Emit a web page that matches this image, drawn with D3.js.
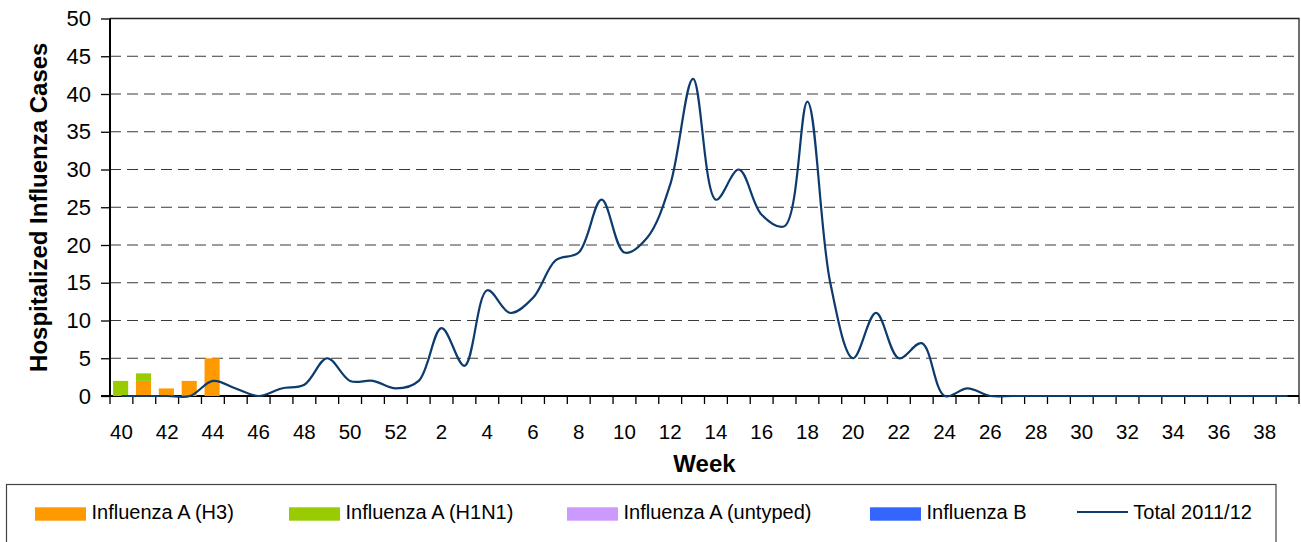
<!DOCTYPE html>
<html>
<head>
<meta charset="utf-8">
<script src="https://cdn.jsdelivr.net/npm/d3@7"></script>
<style>
  body { margin: 0; background: #fff; }
  svg { display: block; font-family: "Liberation Sans", Arial, sans-serif; }
</style>
</head>
<body>
<svg id="chart" width="1301" height="542"></svg>
<script>
// ---- data ----
const weeks = [40,41,42,43,44,45,46,47,48,49,50,51,52,
  1,2,3,4,5,6,7,8,9,10,11,12,13,14,15,16,17,18,19,20,21,22,23,24,25,26,
  27,28,29,30,31,32,33,34,35,36,37,38,39];
const fluAH3 = [0,2,1,2,5,0,0,0,0,0,0,0,0,
  0,0,0,0,0,0,0,0,0,0,0,0,0,0,0,0,0,0,0,0,0,0,0,0,0,0,
  0,0,0,0,0,0,0,0,0,0,0,0,0];
const fluAH1N1 = [2,1,0,0,0,0,0,0,0,0,0,0,0,
  0,0,0,0,0,0,0,0,0,0,0,0,0,0,0,0,0,0,0,0,0,0,0,0,0,0,
  0,0,0,0,0,0,0,0,0,0,0,0,0];
const fluAUntyped = [0,0,0,0,0,0,0,0,0,0,0,0,0,
  0,0,0,0,0,0,0,0,0,0,0,0,0,0,0,0,0,0,0,0,0,0,0,0,0,0,
  0,0,0,0,0,0,0,0,0,0,0,0,0];
const fluB = [0,0,0,0,0,0,0,0,0,0,0,0,0,
  0,0,0,0,0,0,0,0,0,0,0,0,0,0,0,0,0,0,0,0,0,0,0,0,0,0,
  0,0,0,0,0,0,0,0,0,0,0,0,0];
const total = [0,0,0,0,2,1,0,1,1.5,5,2,2,1,
  2,9,4,14,11,13,18,19,26,19,21,28,42,26,30,24,22.5,39,15,5,11,5,7,0,1,0,
  0,0,0,0,0,0,0,0,0,0,0,0,0];
const yTicks = [0,5,10,15,20,25,30,35,40,45,50];
const seriesNames = ["Influenza A (H3)","Influenza A (H1N1)","Influenza A (untyped)","Influenza B"];
const seriesColors = ["#FF9900","#99CC00","#CC99FF","#3366FF"];
const lineName = "Total 2011/12";
const lineColor = "#0d3b6e";

// ---- layout ----
const L = 110, R = 1299, T = 18.5, B = 396;
const svg = d3.select("#chart");

const x = d3.scaleBand().domain(weeks).range([L, R]).padding(0);
const y = d3.scaleLinear().domain([0, 50]).range([B, T]);
const bw = x.bandwidth();
const barW = bw * 0.66;

// gridlines
svg.append("g").selectAll("line")
  .data(yTicks.filter(v => v > 0 && v < 50))
  .join("line")
  .attr("x1", L).attr("x2", R)
  .attr("y1", d => y(d)).attr("y2", d => y(d))
  .attr("stroke", "#3a3a3a").attr("stroke-width", 1)
  .attr("stroke-dasharray", "11,6");

// plot border top/right
svg.append("path")
  .attr("d", `M${L},${T}H${R}V${B}`)
  .attr("fill", "none").attr("stroke", "#222").attr("stroke-width", 1.3);

// y axis
const yAxis = svg.append("g")
  .attr("transform", `translate(${L},0)`)
  .call(d3.axisLeft(y).tickValues(yTicks).tickSize(9).tickPadding(10));
yAxis.select(".domain").remove();
yAxis.selectAll(".tick line").attr("stroke", "#000").attr("stroke-width", 1.3);
yAxis.selectAll(".tick text").attr("font-size", 22).attr("fill", "#000")
  .attr("font-family", "Liberation Sans, Arial, sans-serif");

// x axis labels (every other week)
const xAxis = svg.append("g")
  .attr("transform", `translate(0,${B})`)
  .call(d3.axisBottom(x).tickSize(0).tickPadding(28)
    .tickFormat((d, i) => i % 2 === 0 ? d : ""));
xAxis.select(".domain").remove();
xAxis.selectAll(".tick text").attr("font-size", 20.5).attr("fill", "#000")
  .attr("font-family", "Liberation Sans, Arial, sans-serif");

// x tick marks at band boundaries
const bounds = weeks.map(w => x(w)).concat([R]);
svg.append("g").selectAll("line").data(bounds).join("line")
  .attr("x1", d => d).attr("x2", d => d)
  .attr("y1", B).attr("y2", B + 8)
  .attr("stroke", "#000").attr("stroke-width", 1.3);

// axis lines
svg.append("line").attr("x1", L).attr("x2", L).attr("y1", T).attr("y2", B + 1)
  .attr("stroke", "#000").attr("stroke-width", 2);
svg.append("line").attr("x1", L - 9).attr("x2", R).attr("y1", B).attr("y2", B)
  .attr("stroke", "#000").attr("stroke-width", 2);

// stacked bars
const rows = weeks.map((w, i) => ({
  week: w, s0: fluAH3[i], s1: fluAH1N1[i], s2: fluAUntyped[i], s3: fluB[i]
}));
const stack = d3.stack().keys(["s0","s1","s2","s3"])(rows);
svg.append("g").selectAll("g").data(stack).join("g")
  .attr("fill", (d, i) => seriesColors[i])
  .selectAll("rect").data(d => d.filter(p => p[1] - p[0] > 0)).join("rect")
  .attr("x", d => x(d.data.week) + (bw - barW) / 2 - 0.8)
  .attr("width", barW)
  .attr("y", d => y(d[1]))
  .attr("height", d => y(d[0]) - y(d[1]));

// total line
const line = d3.line()
  .x((d, i) => x(weeks[i]) + bw / 2)
  .y(d => y(d))
  .curve(d3.curveCatmullRom.alpha(0.5));
svg.append("path").datum(total)
  .attr("d", line)
  .attr("fill", "none").attr("stroke", lineColor).attr("stroke-width", 2.2)
  .attr("stroke-linejoin", "round");

// axis titles
svg.append("text")
  .attr("transform", `translate(46.5,${(T + B) / 2}) rotate(-90)`)
  .attr("text-anchor", "middle")
  .attr("font-size", 24).attr("font-weight", "bold")
  .text("Hospitalized Influenza Cases");
svg.append("text")
  .attr("x", (L + R) / 2).attr("y", 471.5)
  .attr("text-anchor", "middle")
  .attr("font-size", 24).attr("font-weight", "bold")
  .text("Week");

// legend
svg.append("rect")
  .attr("x", 6.5).attr("y", 484.5).attr("width", 1269.5).attr("height", 80)
  .attr("fill", "#fff").attr("stroke", "#444").attr("stroke-width", 1.2);
const legX = [35, 289, 567, 870];
const leg = svg.append("g");
seriesNames.forEach((n, i) => {
  leg.append("rect").attr("x", legX[i]).attr("y", 507.3)
    .attr("width", 51).attr("height", 13.4).attr("fill", seriesColors[i]);
  leg.append("text").attr("x", legX[i] + 56.5).attr("y", 519)
    .attr("font-size", 20).text(n);
});
leg.append("line").attr("x1", 1077).attr("x2", 1128).attr("y1", 512).attr("y2", 512)
  .attr("stroke", lineColor).attr("stroke-width", 2);
leg.append("text").attr("x", 1133.3).attr("y", 519)
  .attr("font-size", 20).text(lineName);
</script>
</body>
</html>
